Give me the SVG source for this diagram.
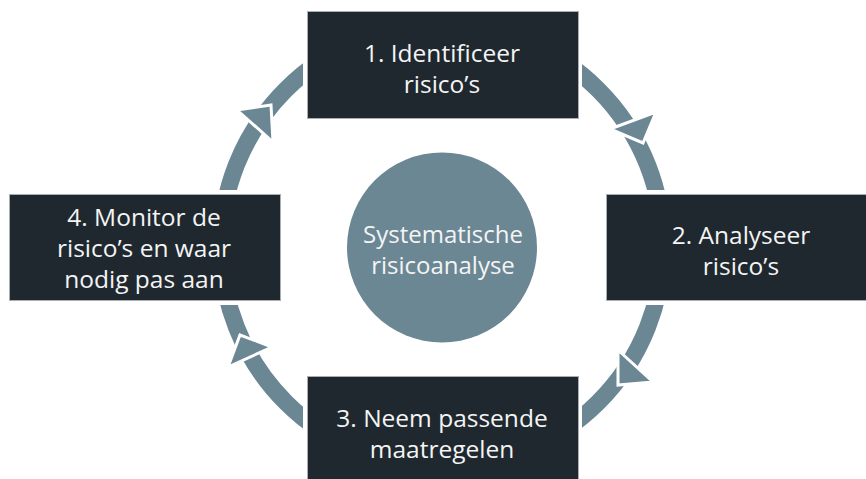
<svg xmlns="http://www.w3.org/2000/svg" width="866" height="479" viewBox="0 0 866 479">
<style>
  .ring { fill: none; stroke: #6b8794; stroke-width: 17; }
  .head { fill: #6b8794; stroke: #ffffff; stroke-width: 3; stroke-linejoin: miter; }
  .gap { fill: #ffffff; }
  .box { fill: #1f282f; stroke: #a9aeb2; stroke-width: 1; }
  .lbl { font-family: "Open Sans", "Noto Sans", sans-serif; font-size: 24.5px; fill: #f4f4f4; text-anchor: middle; }
  .clbl { font-family: "Open Sans", "Noto Sans", sans-serif; font-size: 24px; fill: #f4f4f4; text-anchor: middle; }
</style>
<rect width="866" height="479" fill="#ffffff"/>
<g id="connectors">
  <circle class="ring" cx="442" cy="246" r="221"/>
  <polygon class="head" points="237,110 273,142 271,105"/>
  <polygon class="head" points="610,129 656,112 643,143"/>
  <polygon class="head" points="618,350 653,382 618,385"/>
  <polygon class="head" points="228,367 272,347 240,335"/>
</g>
<g id="node1">
  <rect class="gap" x="303" y="7" width="279" height="115"/>
  <rect class="box" x="307.5" y="11.5" width="271" height="107"/>
  <text class="lbl"><tspan x="442" y="62">1. Identificeer</tspan><tspan x="442" y="93">risico’s</tspan></text>
</g>
<g id="node2">
  <rect class="gap" x="602" y="190" width="270" height="115"/>
  <rect class="box" x="606.5" y="194.5" width="265" height="106"/>
  <text class="lbl"><tspan x="741" y="244">2. Analyseer</tspan><tspan x="741" y="275">risico’s</tspan></text>
</g>
<g id="node3">
  <rect class="gap" x="303" y="372" width="279" height="110"/>
  <rect class="box" x="307.5" y="376.5" width="271" height="108"/>
  <text class="lbl"><tspan x="442" y="427">3. Neem passende</tspan><tspan x="442" y="458">maatregelen</tspan></text>
</g>
<g id="node4">
  <rect class="gap" x="5" y="190" width="279" height="115"/>
  <rect class="box" x="9.5" y="194.5" width="271" height="106"/>
  <text class="lbl"><tspan x="144" y="226">4. Monitor de</tspan><tspan x="144" y="257">risico’s en waar</tspan><tspan x="144" y="288">nodig pas aan</tspan></text>
</g>
<g id="center">
  <circle cx="442" cy="247.5" r="95" fill="#6b8794"/>
  <text class="clbl"><tspan x="443" y="243">Systematische</tspan><tspan x="443" y="274">risicoanalyse</tspan></text>
</g>
</svg>
